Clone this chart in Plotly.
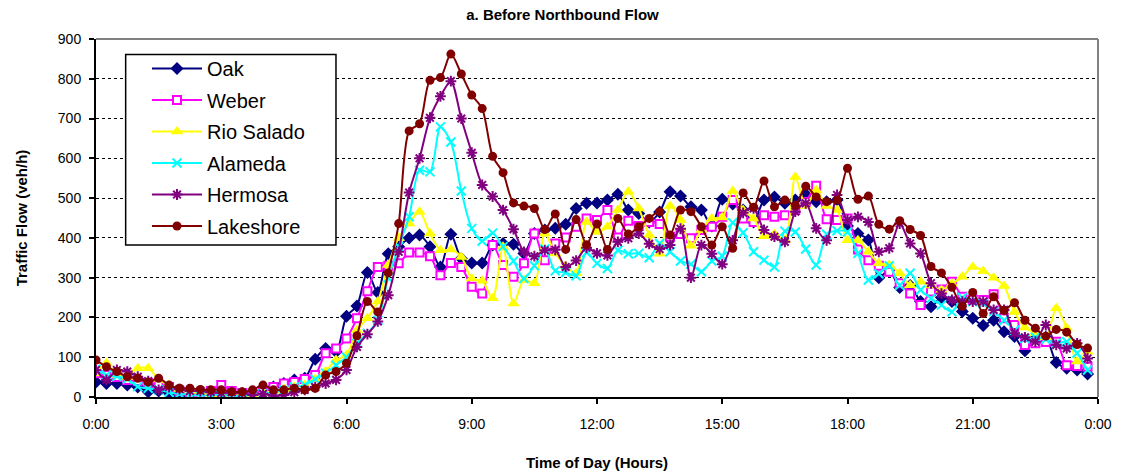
import plotly.graph_objects as go

# 15-minute counts, 0:00 .. 23:45
hours = [i / 4 for i in range(96)]

oak = [38, 34, 34, 30, 25, 13, 15, 10, 3, 8, 10, 12, 10, 2, 8, 10, 15, 25, 34, 43, 47,
       95, 122, 114, 203, 229, 313, 263, 360, 378, 400,
       407, 378, 327, 409, 348, 337, 337, 382, 386, 384,
       361, 411, 420, 424, 434, 474, 487, 488, 495, 510,
       470, 461, 440, 465, 516, 505, 478, 470, 430, 497,
       485, 470, 440, 495, 503, 487, 495, 510, 491, 491,
       495, 430, 411, 395, 300, 320, 275, 280, 240, 227,
       250, 240, 215, 198, 180, 193, 164, 152, 116, 148, 150, 87, 72, 68, 58]

weber = [60, 55, 50, 43, 40, 35, 30, 25, 15, 10, 8, 15, 30, 15, 10, 8, 15, 25, 34, 38, 45,
         55, 110, 122, 147, 198, 266, 327, 330, 336, 363,
         363, 354, 306, 337, 327, 277, 260, 382, 332, 302,
         336, 411, 344, 386, 401, 428, 449, 445, 470, 401,
         443, 430, 440, 435, 403, 410, 399, 420, 428, 453,
         495, 449, 440, 457, 453, 457, 470, 490, 531, 447,
         445, 449, 371, 344, 330, 315, 286, 260, 231, 265,
         270, 290, 252, 245, 244, 258, 198, 181, 131, 135, 138, 139, 80, 78, 76]

rio_salado = [60, 85, 55, 50, 72, 72, 45, 30, 20, 15, 10, 5, 5, 3, 5, 5, 10, 15, 20, 25, 30,
              45, 65, 93, 105, 168, 198, 240, 332, 400, 436,
              466, 411, 369, 371, 352, 298, 292, 248, 378, 235,
              294, 286, 411, 361, 330, 311, 440, 415, 428, 470,
              516, 474, 407, 360, 480, 445, 380, 420, 449, 451,
              518, 470, 449, 404, 410, 394, 553, 480, 520, 480,
              470, 394, 394, 365, 336, 332, 311, 281, 290, 280,
              269, 285, 302, 327, 317, 300, 279, 214, 175, 160, 150, 223, 173, 89, 114]

alameda = [70, 55, 52, 45, 26, 22, 18, 12, 8, 6, 3, 5, 5, 3, 3, 5, 8, 12, 18, 25, 30,
           45, 60, 80, 100, 135, 160, 193, 300, 378, 453,
           570, 566, 679, 641, 518, 424, 392, 412, 378, 342,
           298, 330, 372, 317, 313, 305, 363, 336, 323, 369,
           360, 361, 350, 386, 365, 342, 334, 315, 342, 354,
           438, 413, 365, 344, 327, 417, 415, 372, 332, 409,
           418, 415, 361, 294, 310, 330, 281, 311, 269, 248,
           231, 214, 250, 240, 235, 215, 193, 168, 147, 150, 145, 135, 139, 110, 68]

hermosa = [68, 43, 68, 64, 51, 40, 18, 25, 20, 15, 15, 12, 10, 12, 10, 5, 8, 3, 5, 12, 18,
           25, 34, 43, 68, 126, 158, 190, 256, 365, 514,
           600, 702, 756, 794, 700, 614, 533, 504, 470, 422,
           365, 354, 369, 370, 327, 343, 375, 361, 356, 390,
           399, 411, 385, 372, 382, 423, 300, 382, 360, 334,
           394, 463, 474, 420, 403, 390, 466, 487, 424, 394,
           508, 445, 453, 440, 365, 374, 436, 386, 361, 286,
           260, 244, 240, 240, 240, 219, 219, 160, 150, 139, 181, 131, 122, 135, 97]

lakeshore = [93, 76, 64, 51, 47, 38, 47, 30, 22, 22, 19, 18, 18, 13, 13, 18, 30, 18, 18, 22, 18,
             22, 55, 64, 85, 154, 240, 214, 312, 436, 669,
             687, 796, 803, 862, 812, 759, 725, 605, 564, 488,
             480, 474, 421, 460, 371, 446, 383, 435, 371, 449,
             410, 428, 449, 466, 407, 470, 466, 428, 382, 428,
             374, 513, 477, 543, 478, 495, 482, 530, 503, 491,
             495, 575, 497, 505, 434, 422, 443, 421, 406, 328,
             312, 276, 228, 263, 210, 252, 218, 237, 193, 173, 153, 170, 163, 132, 123]

tick_hours = [0, 3, 6, 9, 12, 15, 18, 21, 24]
tick_labels = ['0:00', '3:00', '6:00', '9:00', '12:00', '15:00', '18:00', '21:00', '0:00']

series = [
    ('Oak', oak, '#000080', dict(symbol='diamond', size=10, color='#000080')),
    ('Weber', weber, '#FF00FF', dict(symbol='square', size=8, color='white',
                                     line=dict(color='#FF00FF', width=2))),
    ('Rio Salado', rio_salado, '#FFFF00', dict(symbol='triangle-up', size=11, color='#FFFF00')),
    ('Alameda', alameda, '#00FFFF', dict(symbol='x-thin-open', size=9,
                                         line=dict(color='#00FFFF', width=2))),
    ('Hermosa', hermosa, '#800080', dict(symbol='asterisk-open', size=9,
                                         line=dict(color='#800080', width=2))),
    ('Lakeshore', lakeshore, '#800000', dict(symbol='circle', size=9, color='#800000')),
]

fig = go.Figure()
for name, vals, col, mk in series:
    fig.add_trace(go.Scatter(x=hours, y=vals, name=name, mode='lines+markers',
                             line=dict(color=col, width=2, shape='spline', smoothing=0.8),
                             marker=mk, legendgroup=name))

font = 'Arial, Liberation Sans, sans-serif'
fig.update_layout(
    width=1125, height=476,
    margin=dict(l=96, r=27, t=39, b=79),
    plot_bgcolor='white', paper_bgcolor='white',
    font=dict(family=font, size=14, color='black'),
    title=dict(text='<b>a. Before Northbound Flow</b>', x=0.5, xref='container',
               y=0.968, yanchor='middle', font=dict(size=15)),
    legend=dict(x=0.0509, y=0.972, xanchor='left', yanchor='top',
                bgcolor='rgba(0,0,0,0)', borderwidth=0,
                font=dict(size=20), tracegroupgap=2.5, itemwidth=50),
    showlegend=True,
)
fig.update_xaxes(range=[0, 24], tickvals=tick_hours, ticktext=tick_labels,
                 showgrid=False, showline=True, linecolor='black', linewidth=2,
                 ticks='outside', ticklen=5, tickcolor='black', tickwidth=2,
                 ticklabelstandoff=8, automargin=False,
                 title=dict(text='<b>Time of Day (Hours)</b>', font=dict(size=15), standoff=27),
                 zeroline=False)
fig.update_yaxes(range=[0, 900], dtick=100, showgrid=True, gridcolor='black',
                 griddash='dot', gridwidth=1, showline=True, linecolor='black',
                 linewidth=2, ticks='outside', ticklen=5, tickcolor='black', tickwidth=2,
                 ticklabelstandoff=5, automargin=False,
                 title=dict(text='<b>Traffic Flow (veh/h)</b>', font=dict(size=15), standoff=27),
                 zeroline=False)

# legend frame, drawn separately so it can be wider than plotly's own box
fig.add_shape(type='rect', xref='paper', yref='paper', x0=0.0296, x1=0.2395, y0=0.4246, y1=0.957,
              line=dict(color='black', width=1.5), fillcolor='white', layer='above')
# grey frame on top and right, as in the source
fig.add_shape(type='line', xref='paper', yref='paper', x0=0, x1=1, y0=1, y1=1,
              line=dict(color='#808080', width=2))
fig.add_shape(type='line', xref='paper', yref='paper', x0=1, x1=1, y0=0, y1=1,
              line=dict(color='#808080', width=2))

# page body has a default margin; drop it so the figure sits at the window corner
fig.write_html('out.html', config={'displayModeBar': False},
               post_script="document.body.style.margin='0';")
